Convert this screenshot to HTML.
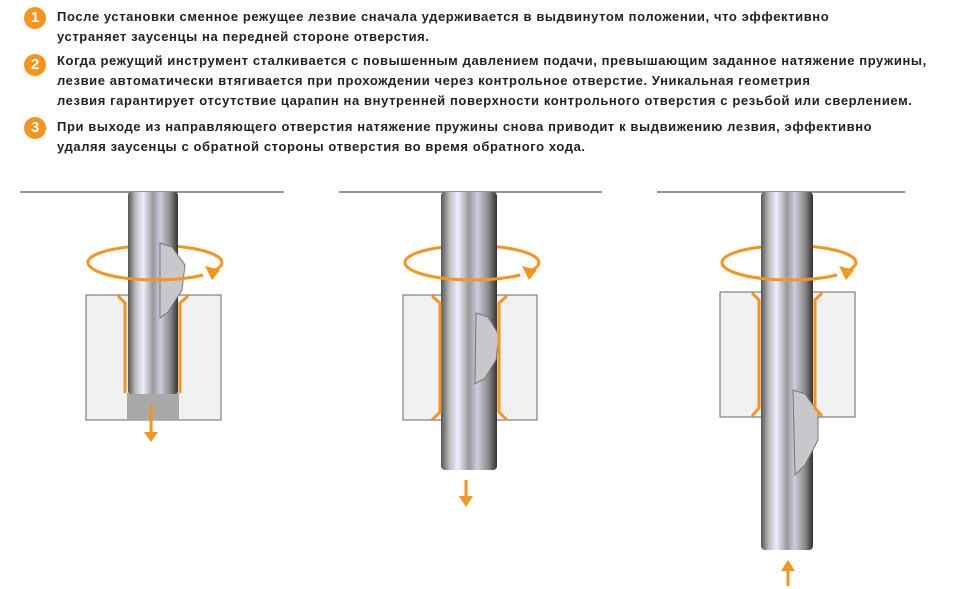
<!DOCTYPE html>
<html><head><meta charset="utf-8"><style>
body{margin:0;width:962px;height:589px;background:#fff;position:relative;overflow:hidden;font-family:"Liberation Sans",sans-serif}
.p{position:absolute;left:57px;font-size:13px;letter-spacing:0.6px;font-weight:bold;color:#222;line-height:20px;white-space:nowrap}
.n{position:absolute;left:24px;width:22px;height:22px;border-radius:50%;background:#f7941d;color:#fff;font-weight:bold;font-size:15px;text-align:center;line-height:22px}
</style></head><body>
<div class="n" style="top:7px">1</div>
<div class="p" style="top:7px">После установки сменное режущее лезвие сначала удерживается в выдвинутом положении, что эффективно<br>устраняет заусенцы на передней стороне отверстия.</div>
<div class="n" style="top:54px">2</div>
<div class="p" style="top:51px">Когда режущий инструмент сталкивается с повышенным давлением подачи, превышающим заданное натяжение пружины,<br>лезвие автоматически втягивается при прохождении через контрольное отверстие. Уникальная геометрия<br>лезвия гарантирует отсутствие царапин на внутренней поверхности контрольного отверстия с резьбой или сверлением.</div>
<div class="n" style="top:117px">3</div>
<div class="p" style="top:117px">При выходе из направляющего отверстия натяжение пружины снова приводит к выдвижению лезвия, эффективно<br>удаляя заусенцы с обратной стороны отверстия во время обратного хода.</div>
<svg width="962" height="589" style="position:absolute;left:0;top:0">
<defs>
<linearGradient id="m" x1="0" x2="1">
<stop offset="0" stop-color="#555"/><stop offset="0.15" stop-color="#bbb"/><stop offset="0.3" stop-color="#eef"/><stop offset="0.5" stop-color="#999"/><stop offset="0.65" stop-color="#ccd"/><stop offset="0.85" stop-color="#888"/><stop offset="1" stop-color="#333"/>
</linearGradient>
<g id="ring">
<path d="M-60,6 A67,17 0 1 1 60,8" fill="none" stroke="#f7941d" stroke-width="3"/>
</g>
<g id="front">
<path d="M50,12 A67,17 0 0 1 -60,6" fill="none" stroke="#f7941d" stroke-width="3"/>
<path d="M52,3 L67,7 L59,17z" fill="#f7941d"/>
</g>
</defs>
<g stroke="#555" stroke-width="1.2"><line x1="20" y1="192" x2="284" y2="192"/><line x1="339" y1="192" x2="602" y2="192"/><line x1="657" y1="192" x2="905" y2="192"/></g>
<!-- panel1 -->
<use href="#ring" x="153" y="263"/>
<rect x="86" y="295" width="135" height="125" fill="#f0f1f2" stroke="#666"/>
<rect x="127" y="393" width="52" height="27" fill="#a9a9a9"/>
<rect x="128" y="192" width="50" height="202" rx="3" fill="url(#m)"/>
<path d="M160,243 L172,247 L185,265 L182,290 L168,312 L160,318 Z" fill="#c8c8cc" stroke="#777"/>
<path d="M118,296 L125,303 V393 M188,296 L180,303 V393" fill="none" stroke="#f7941d" stroke-width="3"/>
<use href="#front" x="153" y="263"/>
<line x1="151" y1="405" x2="151" y2="432" stroke="#f7941d" stroke-width="3"/><path d="M144,432 L158,432 L151,442z" fill="#f7941d"/>
<!-- panel2 -->
<use href="#ring" x="470" y="263"/>
<rect x="403" y="295" width="134" height="125" fill="#f0f1f2" stroke="#666"/>
<rect x="441" y="192" width="56" height="278" rx="4" fill="url(#m)"/>
<path d="M476,313 L488,317 L499,335 L496,360 L485,378 L475,384 Z" fill="#c8c8cc" stroke="#777"/>
<path d="M432,296 L440,303 V412 L432,420 M507,296 L499,303 V412 L507,420" fill="none" stroke="#f7941d" stroke-width="3"/>
<use href="#front" x="470" y="263"/>
<line x1="466" y1="480" x2="466" y2="497" stroke="#f7941d" stroke-width="3"/><path d="M459,496 L473,496 L466,507z" fill="#f7941d"/>
<!-- panel3 -->
<use href="#ring" x="787" y="263"/>
<rect x="720" y="292" width="135" height="125" fill="#f0f1f2" stroke="#666"/>
<rect x="761" y="192" width="52" height="358" rx="4" fill="url(#m)"/>
<path d="M793,390 L805,394 L818,412 L818,440 L805,465 L795,475 Z" fill="#c8c8cc" stroke="#777"/>
<path d="M752,293 L759,300 V408 L752,416 M822,293 L815,300 V408 L822,416" fill="none" stroke="#f7941d" stroke-width="3"/>
<use href="#front" x="787" y="263"/>
<line x1="788" y1="570" x2="788" y2="586" stroke="#f7941d" stroke-width="3"/><path d="M781,571 L795,571 L788,560z" fill="#f7941d"/>
</svg>
</body></html>
